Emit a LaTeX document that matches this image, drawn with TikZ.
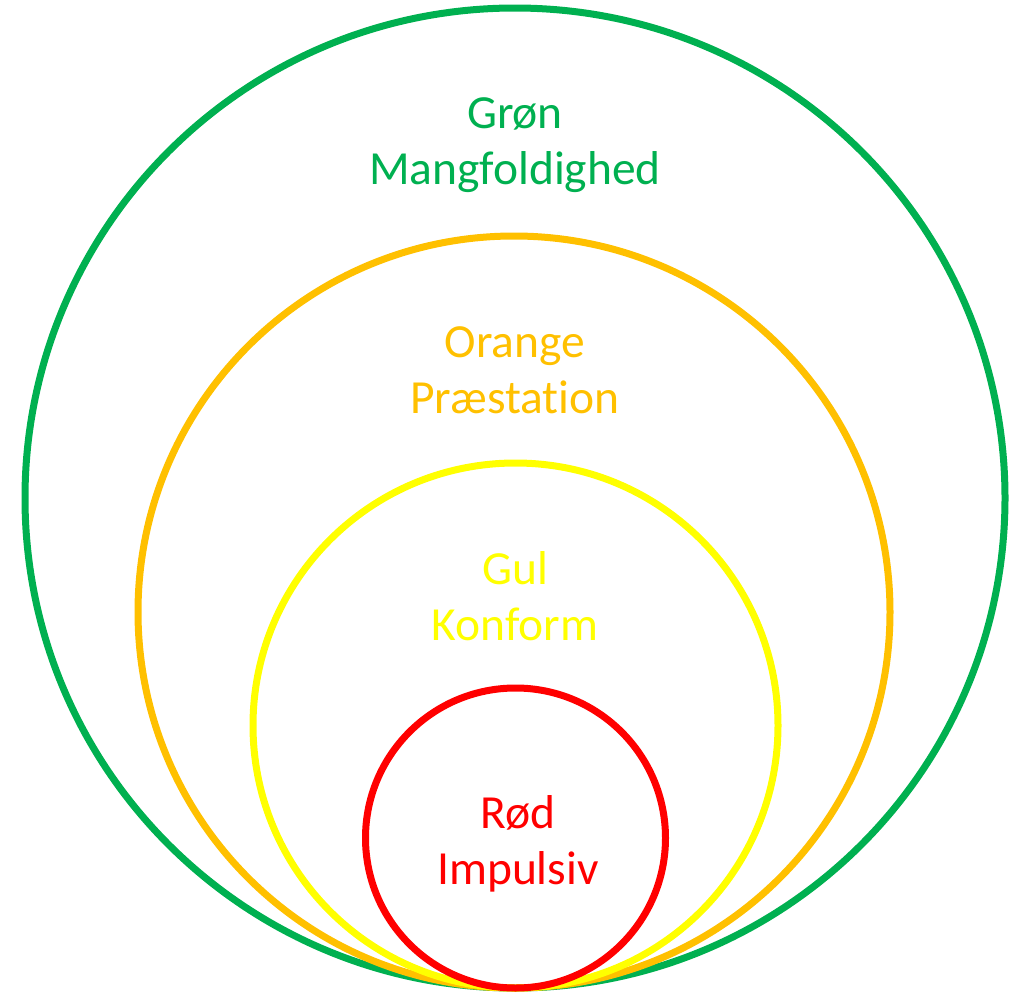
\documentclass[tikz,border=0pt]{standalone}
\usepackage{fontspec}
\setmainfont[Ligatures=NoCommon]{Carlito}
\definecolor{cgreen}{HTML}{00B050}
\definecolor{corange}{HTML}{FFC000}
\definecolor{cyellow}{HTML}{FFFF00}
\definecolor{cred}{HTML}{FF0000}
\begin{document}
\begin{tikzpicture}[x=1pt,y=-1pt,
  ring/.style={line width=7pt},
  lbl/.style={align=center,inner sep=0pt,anchor=base,font=\fontsize{47.5}{56}\selectfont}]
\useasboundingbox (0,0) rectangle (1012,993);
% nested stages, all touching at the bottom
\node[ring,draw=cgreen,circle,minimum size=980pt] (green) at (515,498) {};
\node[ring,draw=corange,circle,minimum size=752pt] (orange) at (514,612) {};
\node[ring,draw=cyellow,circle,minimum size=525pt] (yellow) at (515.5,725.5) {};
\node[ring,draw=cred,circle,minimum size=300pt] (red) at (515.5,838) {};
% stage names (anchored at the baseline of the second line)
\node[lbl,text=cgreen] (tgreen) at (515,184) {Grøn\\Mangfoldighed};
\node[lbl,text=corange] (torange) at (515,413) {Orange\\Præstat\kern0pt ion};
\node[lbl,text=cyellow] (tyellow) at (515,640) {Gul\\Konform};
\node[lbl,text=cred] (tred) at (518,884) {Rød\\Impulsiv};
\end{tikzpicture}
\end{document}
